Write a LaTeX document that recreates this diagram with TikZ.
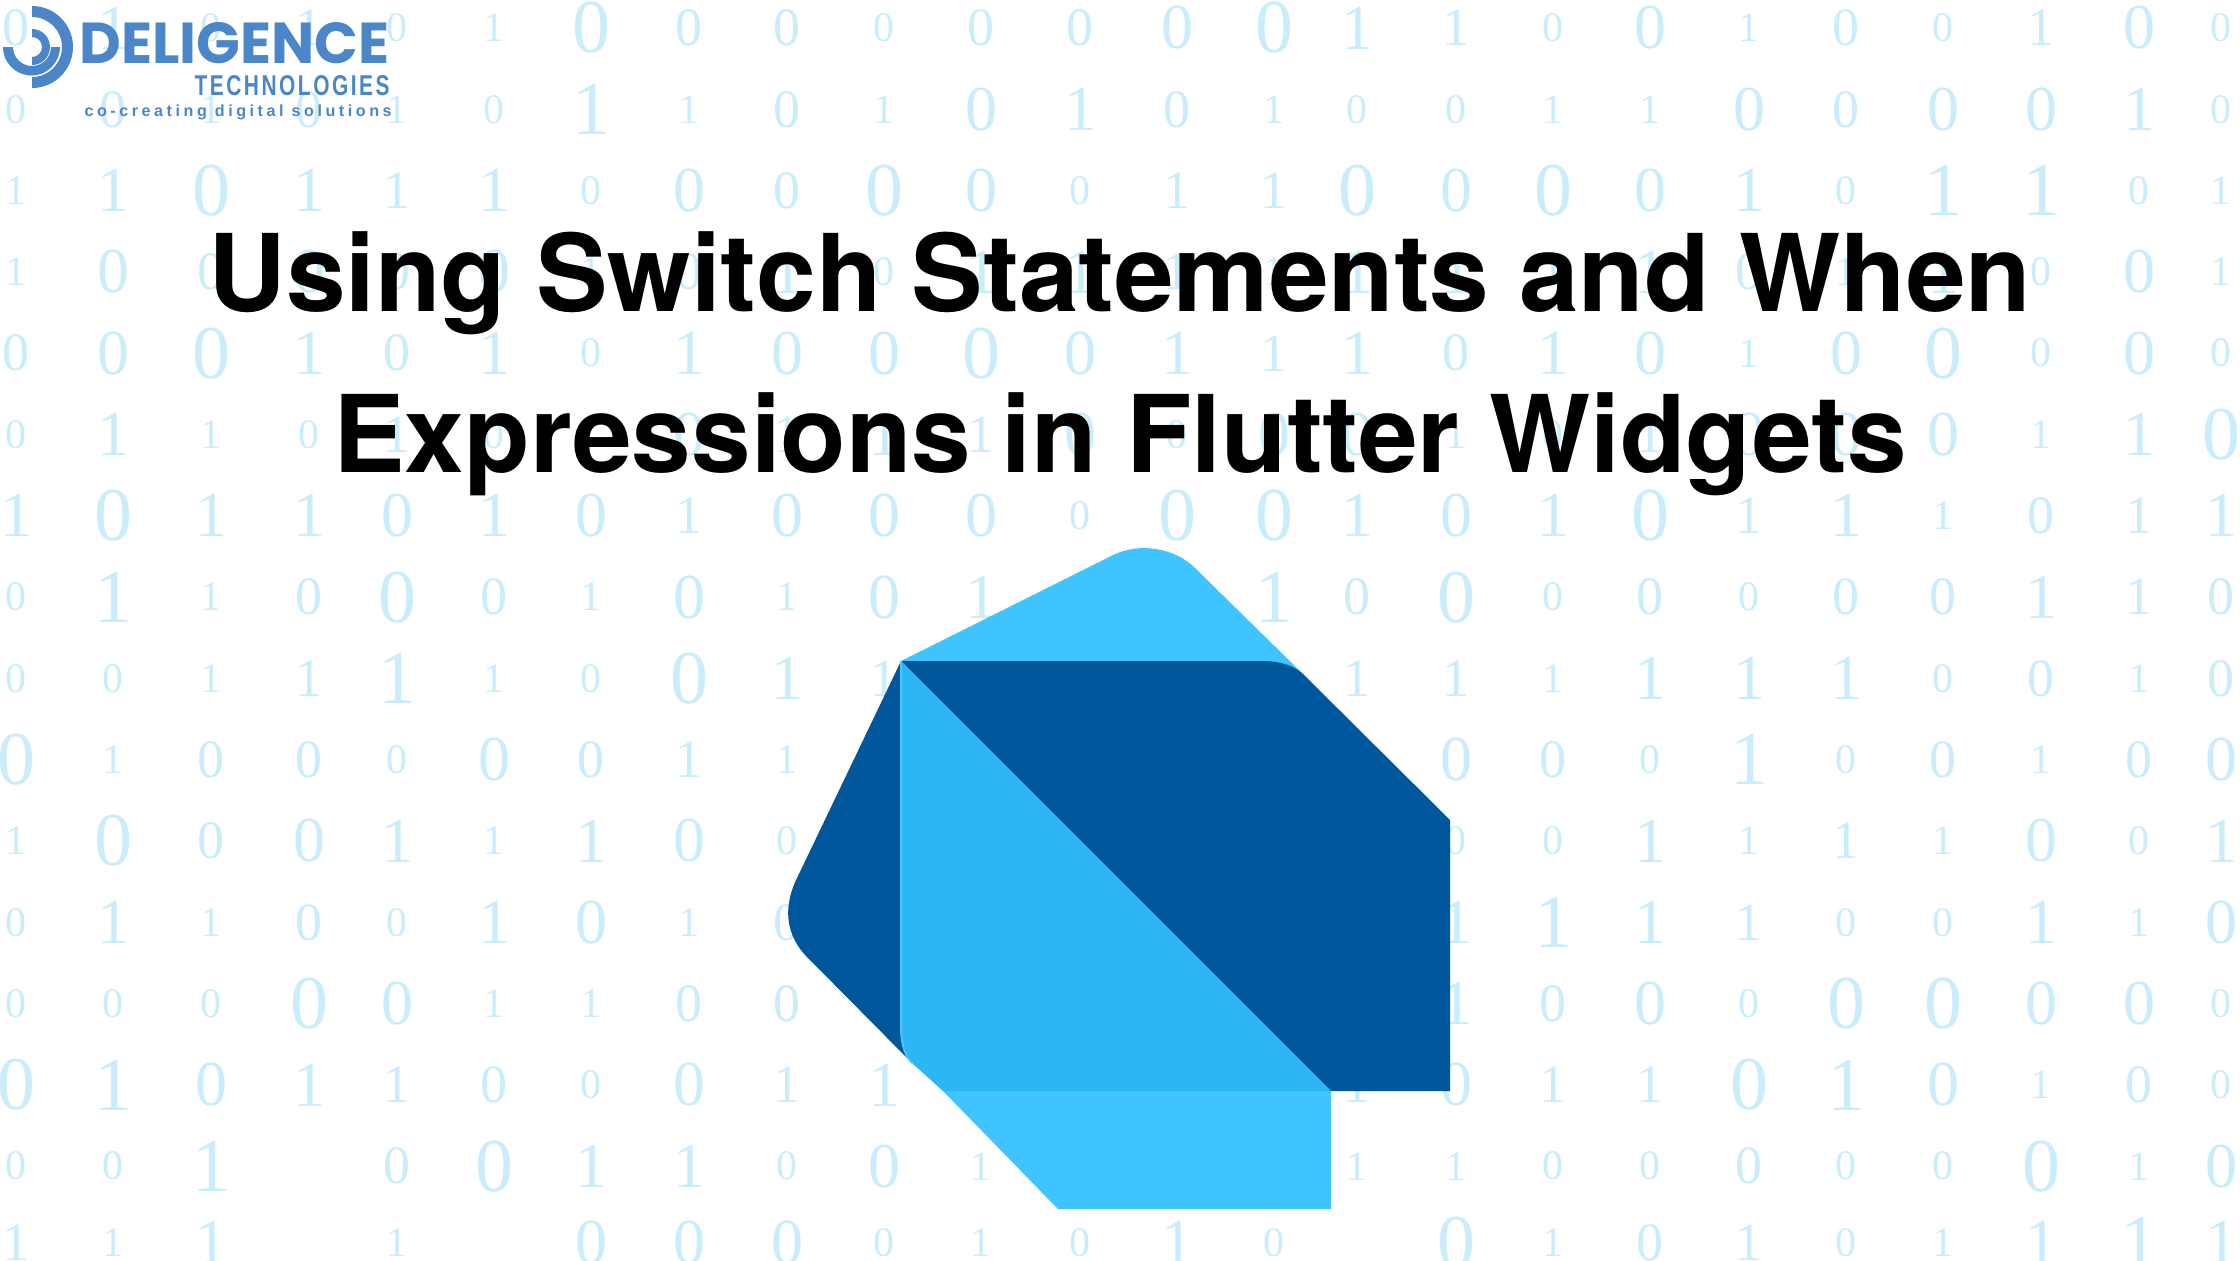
\documentclass[tikz,border=0pt]{standalone}
\usepackage{graphicx}
\usepackage{fontspec}
\setmainfont{Liberation Serif}
\newfontfamily\titlefont{TeX Gyre Heros}
\newfontfamily\brandfont{Poppins}
\newfontfamily\techfont[LetterSpace=12]{Liberation Sans}
\newfontfamily\tagfont[LetterSpace=22]{Liberation Sans}
\definecolor{bitblue}{HTML}{CAEDFB}
\definecolor{brandblue}{HTML}{4A86C8}
\definecolor{dartlight}{HTML}{40C4FF}
\definecolor{dartmid}{HTML}{2BB6F6}
\definecolor{dartdark}{HTML}{01579B}
\definecolor{dartedge}{HTML}{4FC3F7}
\tikzset{
	bit/.style={inner sep=0pt, text=bitblue},
	bita/.style={bit, font=\fontsize{21}{21}\selectfont},
	bitb/.style={bit, font=\fontsize{27}{27}\selectfont},
	bitc/.style={bit, font=\fontsize{32}{32}\selectfont},
	bitd/.style={bit, font=\fontsize{38}{38}\selectfont},
	titletext/.style={anchor=base, inner sep=0pt, font=\titlefont\bfseries\fontsize{53.6}{60}\selectfont},
	brandtext/.style={anchor=base east, inner sep=0pt, text=brandblue}
}
\def\colxs{{16,113,211,309,397,494,591,689,787,884,981,1080,1177,1274,1357,1456,1553,1650,1749,1846,1943,2041,2139,2221}}
\begin{document}
\begin{tikzpicture}[x=0.5pt, y=0.5pt]
	\useasboundingbox (0,0) rectangle (2240,-1260);
	% background digits, x = nothing to print
	\foreach \bits [count=\r] in {
		{0/b,1/c,0/a,1/b,0/a,1/a,0/d,0/b,0/b,0/a,0/b,0/b,0/c,0/d,1/c,1/b,0/a,0/c,1/a,0/b,0/a,1/b,0/c,0/a},
		{0/a,0/b,1/a,0/b,1/a,0/a,1/d,1/a,0/b,1/a,0/c,1/c,0/b,1/a,0/a,0/a,1/a,1/a,0/c,0/b,0/c,0/c,1/c,0/a},
		{1/a,1/c,0/d,1/c,1/b,1/c,0/a,0/c,0/b,0/d,0/c,0/a,1/b,1/b,0/d,0/c,0/d,0/c,1/c,0/a,1/d,1/d,0/a,1/a},
		{1/a,0/c,0/b,0/c,0/b,0/c,1/a,0/b,1/c,0/a,1/c,1/c,1/b,1/a,1/c,1/c,1/a,1/c,0/b,1/a,1/c,0/a,0/c,1/a},
		{0/b,0/c,0/d,1/c,0/b,1/c,0/a,1/c,0/c,0/c,0/d,0/c,1/c,1/b,1/c,0/b,1/c,0/c,1/a,0/c,0/d,0/a,0/c,0/a},
		{0/a,1/c,1/a,0/a,1/b,0/a,x/a,0/c,1/b,1/c,1/b,0/c,0/a,0/c,0/c,1/a,0/a,1/b,0/c,0/c,0/c,1/a,1/c,0/d},
		{1/c,0/d,1/c,1/c,0/c,1/c,0/c,1/b,0/c,0/c,0/c,0/a,0/d,0/d,1/c,0/c,1/c,0/d,1/b,1/c,1/a,0/b,1/b,1/c},
		{0/a,1/d,1/a,0/b,0/d,0/b,1/a,0/c,1/a,0/c,1/c,x/a,x/a,1/d,0/b,0/d,0/a,0/b,0/a,0/b,0/b,1/c,1/b,0/b},
		{0/a,0/a,1/a,1/b,1/d,1/a,0/a,0/d,1/c,1/b,x/a,x/a,x/a,x/a,1/b,1/b,1/a,1/c,1/c,1/c,0/a,0/b,1/a,0/b},
		{0/d,1/a,0/b,0/b,0/a,0/c,0/b,1/b,1/a,x/a,x/a,x/a,x/a,x/a,x/a,0/c,0/b,0/a,1/d,0/a,0/b,1/a,0/b,0/c},
		{1/a,0/d,0/b,0/c,1/c,1/a,1/c,0/c,0/a,x/a,x/a,x/a,x/a,x/a,x/a,0/a,0/a,1/c,1/a,1/b,1/a,0/c,0/a,1/c},
		{0/a,1/c,1/a,0/b,0/a,1/c,0/c,1/a,0/b,x/a,x/a,x/a,x/a,x/a,x/a,1/c,1/d,1/c,1/b,0/a,0/a,1/c,1/a,0/c},
		{0/a,0/a,0/a,0/d,0/c,1/a,1/a,0/b,0/b,x/a,x/a,x/a,x/a,x/a,x/a,1/c,0/b,0/c,0/a,0/d,0/d,0/c,0/c,0/a},
		{0/d,1/d,0/c,1/c,1/b,0/b,0/a,0/c,1/b,1/c,x/a,x/a,x/a,x/a,1/b,0/c,1/b,1/b,0/d,1/d,0/c,1/a,0/b,0/a},
		{0/a,0/a,1/d,x/a,0/b,0/d,1/c,1/c,0/a,0/c,1/a,x/a,x/a,x/a,1/a,1/a,0/a,0/a,0/b,0/a,0/a,0/d,1/a,0/c},
		{1/b,1/a,1/c,x/a,1/a,x/a,0/c,0/c,0/c,0/a,1/a,0/a,1/c,0/a,x/a,0/d,1/a,0/b,1/b,0/a,1/a,1/c,1/d,1/c}}
	{
		\foreach \d/\s [count=\c] in \bits {
			\if\d x\else
				\pgfmathsetmacro{\bitx}{\colxs[\c-1]}
				\pgfmathsetmacro{\bity}{-28-81.3*(\r-1)+(\r==16)*5}
				\node[bit\s] (bit-\r-\c) at (\bitx,\bity) {\d};
			\fi
		}
	}
	% dart shape
	\coordinate (P) at (901,-661);
	\coordinate (T1) at (1113,-555);
	\coordinate (T2) at (1195,-568);
	\coordinate (T3) at (1302,-673);
	\coordinate (T4) at (1260,-661);
	\coordinate (R1) at (1450,-820);
	\coordinate (R2) at (1450,-1091);
	\coordinate (R3) at (1331,-1091);
	\coordinate (L1) at (798,-876);
	\coordinate (L2) at (809,-959);
	\coordinate (L3) at (912,-1063);
	\coordinate (M1) at (901,-1026);
	\coordinate (B1) at (943,-1091);
	\coordinate (B2) at (1331,-1209);
	\coordinate (B3) at (1058,-1209);
	\fill[dartlight] (P) -- (T1) .. controls (1140,-542) and (1175,-548) .. (T2) -- (T3) -- (T4) -- cycle;
	\fill[dartlight] (B1) -- (R3) -- (B2) -- (B3) -- cycle;
	\fill[dartdark] (P) -- (T4) .. controls (1275,-661) and (1290,-663) .. (T3) -- (R1) -- (R2) -- (R3) -- cycle;
	\fill[dartdark] (P) -- (L1) .. controls (783,-905) and (784,-935) .. (L2) -- (L3) -- (M1) -- cycle;
	\fill[dartmid] (P) -- (M1) .. controls (901,-1040) and (903,-1053) .. (L3) -- (B1) -- (R3) -- cycle;
	\draw[dartedge, line width=1pt] (P) -- (M1) .. controls (901,-1040) and (903,-1053) .. (L3);
	% title
	\node[titletext] (title1) at (1120,-311) {Using Switch Statements and When};
	\node[titletext] (title2) at (1120,-472) {Expressions in Flutter Widgets};
	% company mark
	\fill[brandblue] (32,-6) arc (90:-90:20.5pt) -- (32,-77) arc (-90:90:15pt) -- cycle;
	\fill[brandblue] (3,-47) arc (180:360:14.25pt) -- (51,-47) arc (0:-180:9.5pt) -- cycle;
	\fill[brandblue] (32,-29) arc (90:-90:9pt) -- (32,-57) arc (-90:90:5pt) -- cycle;
	\node[brandtext] (brand) at (390,-63) {\resizebox{155pt}{20.5pt}{\brandfont\bfseries DELIGENCE}};
	\node[brandtext] (tech) at (390,-95) {\resizebox{97.5pt}{10pt}{\techfont\bfseries TECHNOLOGIES}};
	\node[brandtext] (tag) at (392,-116) {\resizebox{153.5pt}{!}{\tagfont\bfseries co-creating digital solutions}};
\end{tikzpicture}
\end{document}
